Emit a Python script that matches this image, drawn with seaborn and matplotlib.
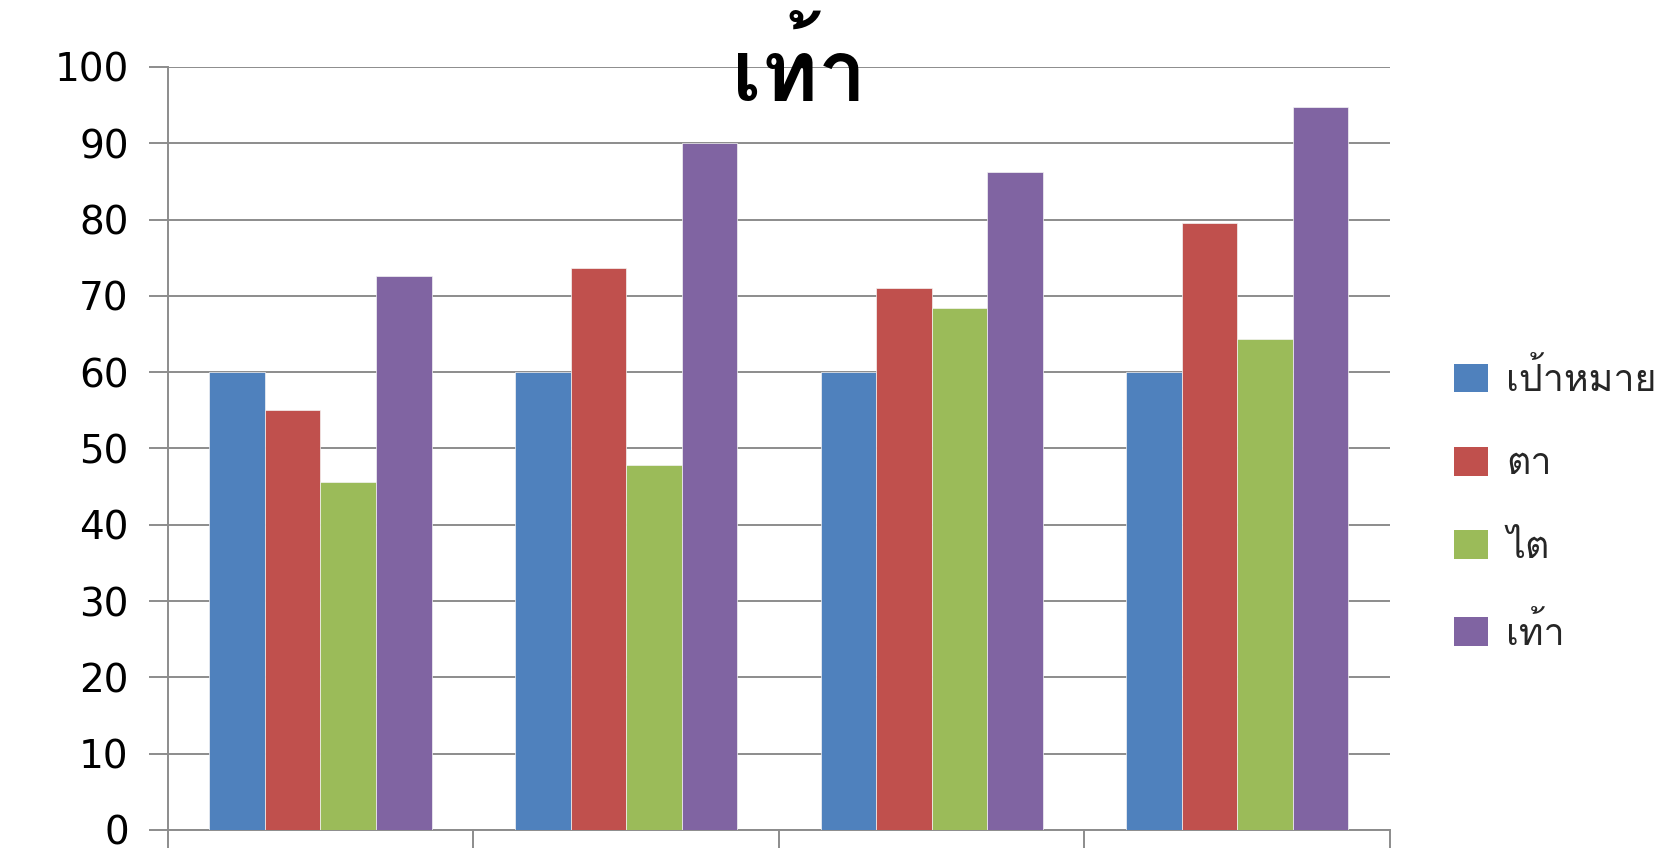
import matplotlib
matplotlib.use("Agg")
import matplotlib.pyplot as plt
from matplotlib import font_manager
from matplotlib.patches import Patch
import seaborn as sns
import pandas as pd

# Data
groups = ["1", "2", "3", "4"]
series = ["เป้าหมาย", "ตา", "ไต", "เท้า"]
target = [60, 60, 60, 60]
eye = [55.0, 73.7, 71.0, 79.6]
kidney = [45.6, 47.9, 68.4, 64.4]
foot = [72.6, 90.0, 86.2, 94.7]
colors = ["#4F81BD", "#C0504D", "#9BBB59", "#8064A2"]
yticks = [0, 10, 20, 30, 40, 50, 60, 70, 80, 90, 100]
title = "เท้า"


def thai_fonts():
    """Return installed font family names that can render Thai script."""
    from fontTools.ttLib import TTFont
    found = []
    for f in font_manager.fontManager.ttflist:
        try:
            tt = TTFont(f.fname, fontNumber=0, lazy=True)
            cmap = tt.getBestCmap() or {}
            if 0x0E40 in cmap and 0x0E32 in cmap:
                if f.name not in found:
                    found.append(f.name)
        except Exception:
            continue
    return found


sns.set_theme(style="white")
thai = thai_fonts()
families = thai + ["DejaVu Sans"]
plt.rcParams["font.family"] = families

df = pd.DataFrame({
    "group": groups * 4,
    "series": [s for s in series for _ in groups],
    "value": target + eye + kidney + foot,
})

fig = plt.figure(figsize=(16.75, 8.51), dpi=100)
ax = fig.add_axes([0.1001, 0.0247, 0.7298, 0.8966])

sns.barplot(data=df, x="group", y="value", hue="series", hue_order=series,
            palette=colors, saturation=1, width=0.727, gap=0, ax=ax,
            legend=False, edgecolor="#f4f4f4", linewidth=0.5, zorder=3)

ax.set_ylim(0, 100)
ax.set_xlim(-0.5, 3.5)
ax.set_yticks(yticks)
ax.set_yticklabels([str(v) for v in yticks], family="DejaVu Sans", fontsize=28)
ax.set_xticks([-0.5, 0.5, 1.5, 2.5, 3.5])
ax.set_xticklabels([])
ax.set_xlabel("")
ax.set_ylabel("")

ax.grid(axis="y", color="#8c8c8c", linewidth=1.4, zorder=0)
ax.set_axisbelow(True)
for side in ["top", "right"]:
    ax.spines[side].set_visible(False)
for side in ["left", "bottom"]:
    ax.spines[side].set_color("#8c8c8c")
    ax.spines[side].set_linewidth(1.4)
ax.tick_params(axis="y", direction="out", length=14, width=1.4,
               color="#8c8c8c", left=True, pad=14, labelcolor="black")
ax.tick_params(axis="x", direction="out", length=13, width=1.4,
               color="#8c8c8c", bottom=True)

fig.text(0.477, 0.915, title, ha="center", va="center", fontsize=62,
         fontweight="bold", color="black", family=families)

handles = [Patch(facecolor=c, edgecolor="none") for c in colors]
fig.legend(handles, series, loc="center left", bbox_to_anchor=(0.868, 0.405),
           frameon=False, handlelength=0.9, handleheight=0.8,
           labelspacing=1.28, handletextpad=0.5, borderpad=0, borderaxespad=0,
           prop={"family": families, "size": 27})

fig.savefig("out.png", dpi=100, facecolor="white")
